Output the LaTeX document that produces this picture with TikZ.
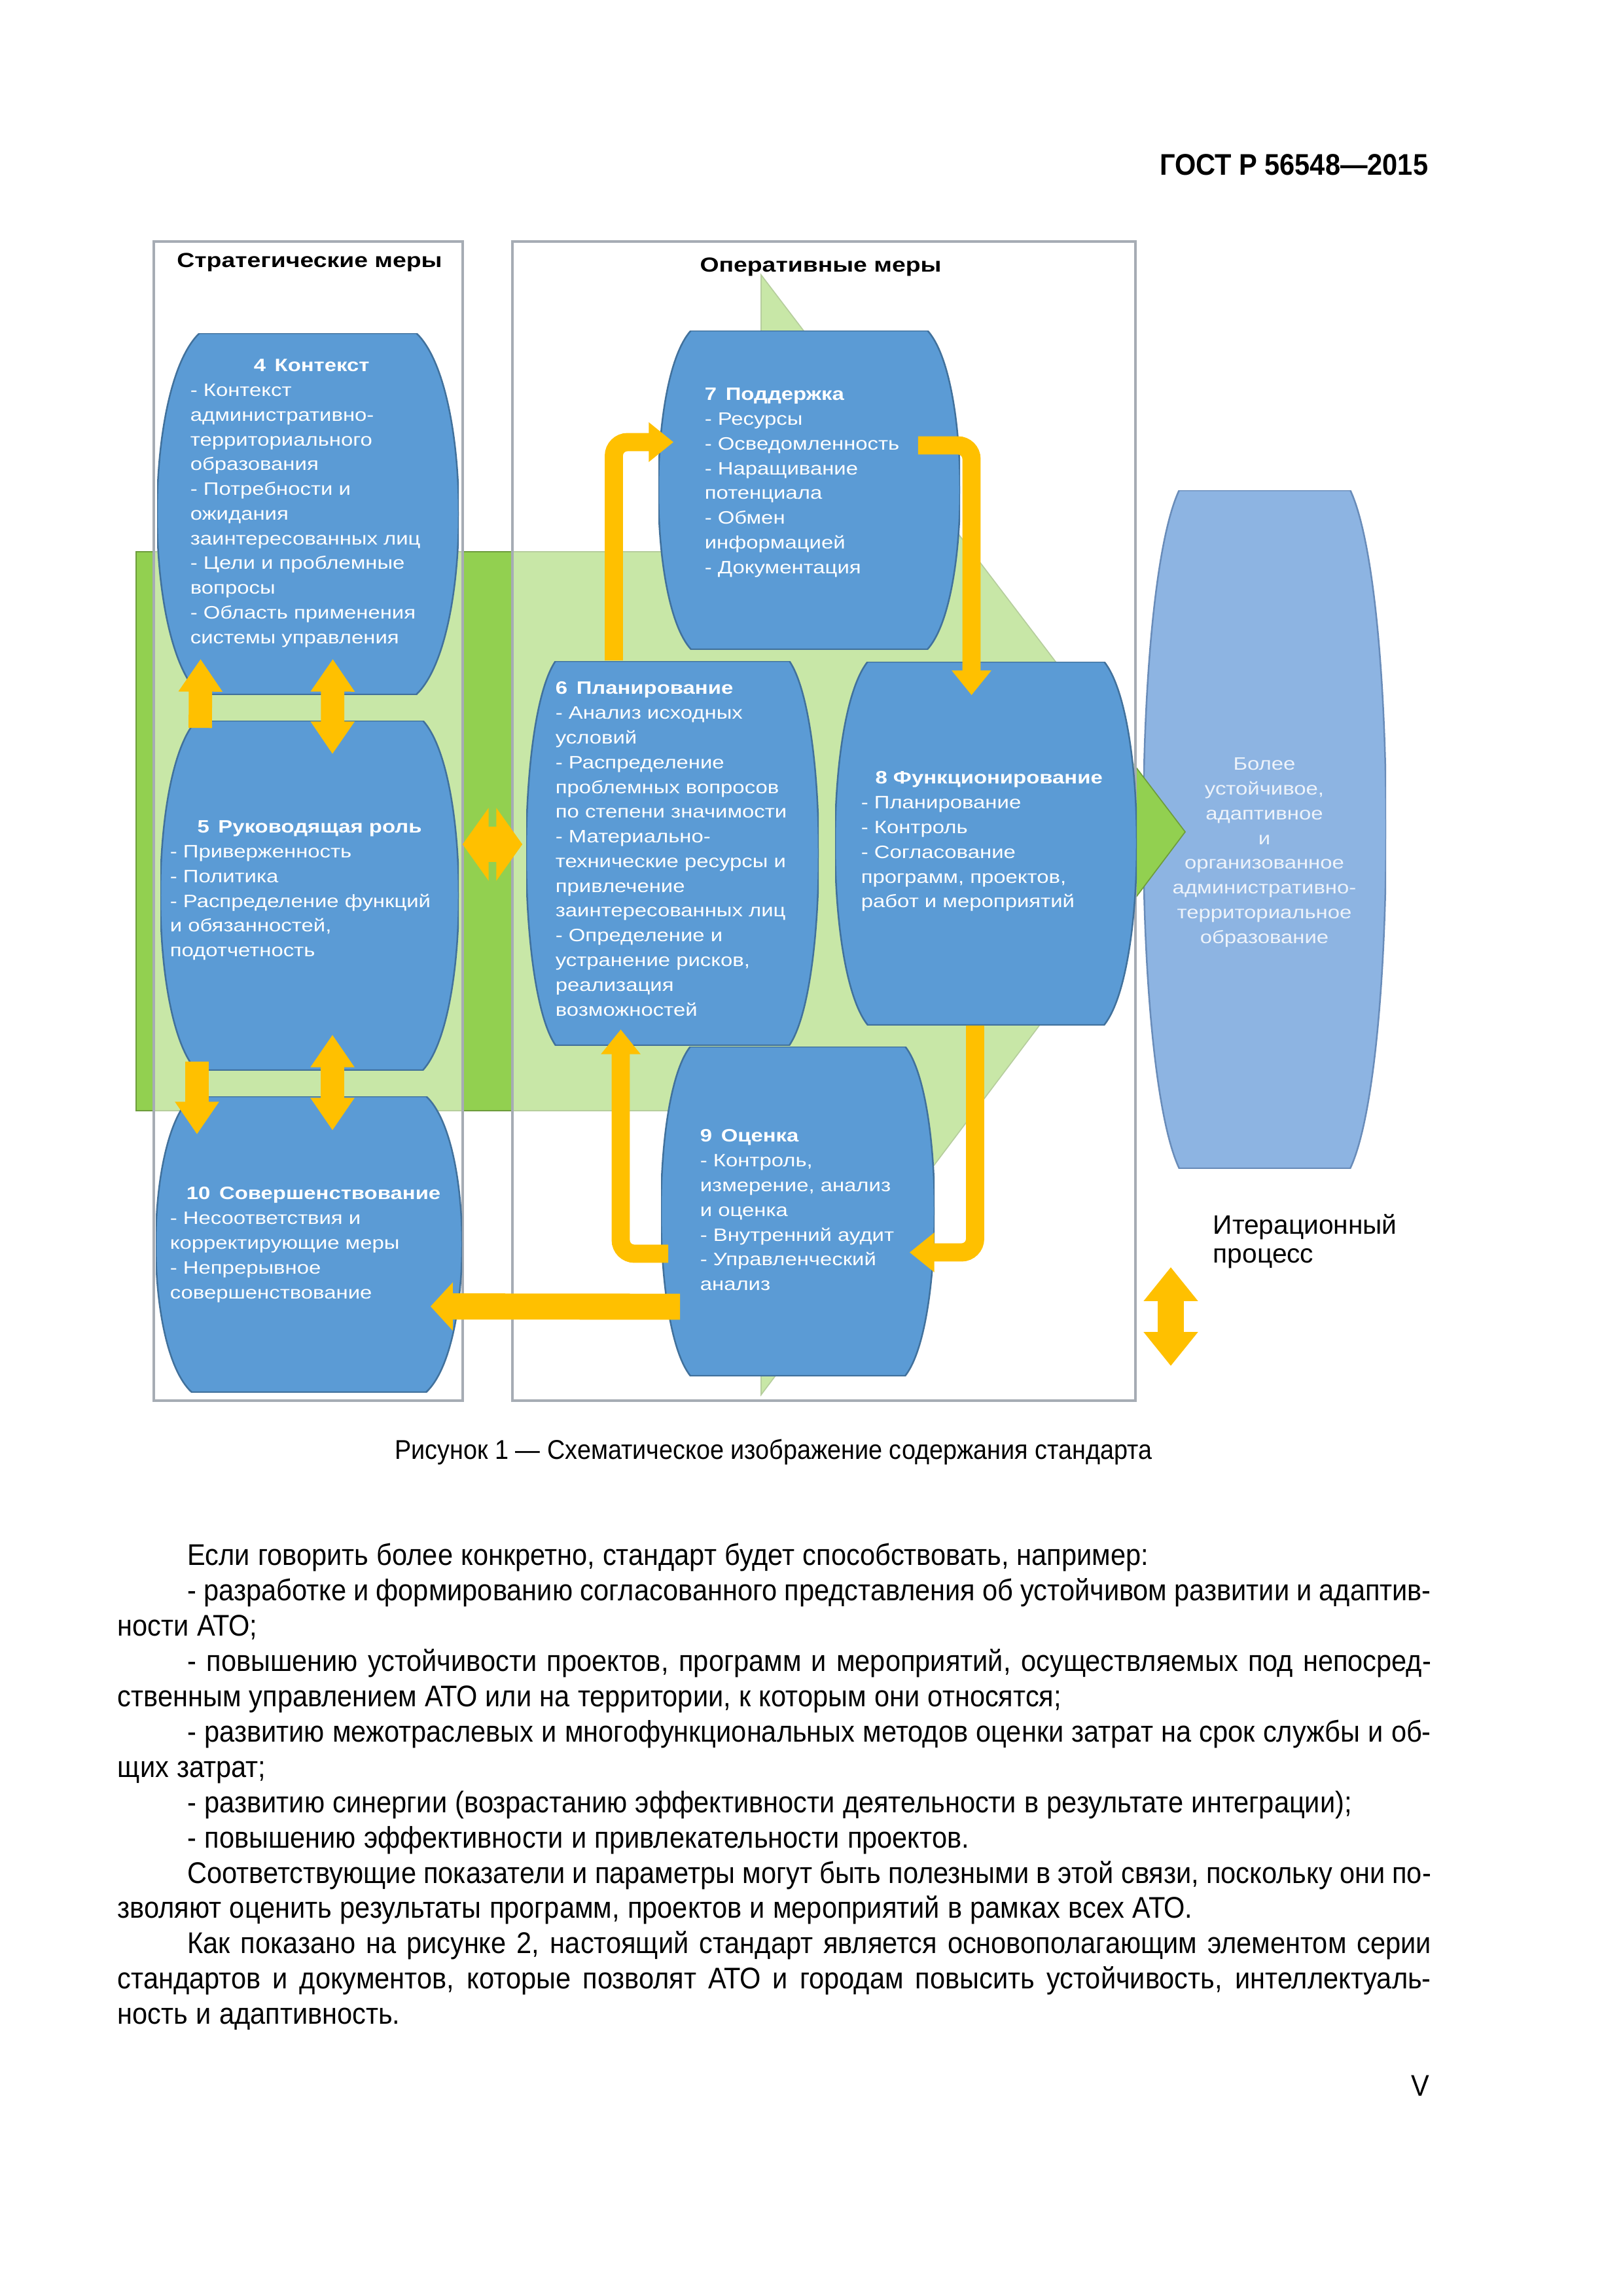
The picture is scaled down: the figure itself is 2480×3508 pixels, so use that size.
\documentclass[tikz,border=0pt]{standalone}
\usepackage{fontspec}
\setmainfont{Liberation Sans}
\newfontfamily\diagfont{Liberation Sans}[FakeStretch=1.2]
\newfontfamily\pagefont{Liberation Sans}[FakeStretch=0.91]
\usetikzlibrary{arrows.meta, calc, fit}

\definecolor{shapeblue}{RGB}{91,155,213}
\definecolor{shapeline}{RGB}{65,113,156}
\definecolor{goalblue}{RGB}{141,180,226}
\definecolor{goalline}{RGB}{105,140,185}
\definecolor{arrowgreen}{RGB}{146,208,80}
\definecolor{arrowyellow}{RGB}{255,192,0}
\definecolor{panelgray}{RGB}{166,172,180}

\newcommand\shapeheadc[1]{\hbox to\hsize{\hss\textbf{#1}\hss}}
\newcommand\pind{\hskip25.7pt}
\newcommand\jline[1]{\noindent\hbox to\hsize{#1}\par}
\newcommand\nline[1]{\noindent\hbox{#1}\par}

\tikzset{
  bulge/.initial=12pt,
  blueshape/.style={fill=shapeblue, draw=shapeline, line width=0.6pt},
  goalshape/.style={fill=goalblue, draw=goalline, line width=0.6pt},
  barrel/.style={inner sep=0pt, path picture={
    \pgfmathsetlengthmacro{\bd}{\pgfkeysvalueof{/tikz/bulge}}
    \filldraw[#1] let \p1=(path picture bounding box.south west),
      \p2=(path picture bounding box.north east), \n1={0.15*(\y2-\y1)} in
      ({\x1+\bd},\y1) -- ({\x2-\bd},\y1)
      .. controls ({\x2+\bd/3},{\y1+\n1}) and ({\x2+\bd/3},{\y2-\n1}) .. ({\x2-\bd},\y2)
      -- ({\x1+\bd},\y2)
      .. controls ({\x1-\bd/3},{\y2-\n1}) and ({\x1-\bd/3},{\y1+\n1}) .. cycle;
  }},
  barrel/.default=blueshape,
  panel/.style={draw=panelgray, line width=1pt, fill=white, fill opacity=0.5, inner sep=0pt},
  titletext/.style={inner sep=0pt, anchor=base, font=\diagfont\bfseries\fontsize{7.5}{9}\selectfont},
  shapetext/.style={inner sep=0pt, text=white, align=left, anchor=north west,
    font=\diagfont\fontsize{6.6}{9.1}\selectfont},
  yarrow/.style={draw=arrowyellow},
  bendarrow/.style={yarrow, line width=6.7pt, rounded corners=5pt, -{Triangle[length=9.1pt, width=14pt]}},
  vertarrow/.style={yarrow, line width=8.6pt, -{Triangle[length=12pt, width=15.4pt]}},
  vertdouble/.style={yarrow, line width=8.6pt, {Triangle[length=12pt, width=15.4pt]}-{Triangle[length=12pt, width=15.4pt]}},
  sidedouble/.style={yarrow, line width=13pt, {Triangle[length=9.6pt, width=26.4pt]}-{Triangle[length=9.6pt, width=26.4pt]}},
  backarrow/.style={yarrow, line width=9.6pt, -{Triangle[length=8.2pt, width=17.3pt]}},
  iterdouble/.style={yarrow, line width=9.6pt, {Triangle[length=12.5pt, width=19.2pt]}-{Triangle[length=12.5pt, width=19.2pt]}},
  pagetext/.style={inner sep=0pt, font=\pagefont\fontsize{10}{12}\selectfont},
}

\begin{document}
\begin{tikzpicture}[x=0.0846774mm, y=-0.0846774mm]
\fill[white] (0,0) rectangle (2480,3508);
\useasboundingbox (0,0) rectangle (2480,3508);

% result and big green arrow
\node[barrel=goalshape, bulge=13.2pt, fit={(1747,749) (2118,1785)}] (goal) {};
\filldraw[fill=arrowgreen, draw=arrowgreen!75!black, line width=0.4pt]
  (208,843) -- (1163,843) -- (1163,420) -- (1811,1271) -- (1163,2131)
  -- (1163,1697) -- (208,1697) -- cycle;

% panels
\node[panel, fit={(235,369) (707,2140)}] (strat) {};
\node[panel, fit={(783,369) (1735,2140)}] (opbox) {};
\node[titletext] (strat-t) at (473,408) {Стратегические меры};
\node[titletext] (opbox-t) at (1254,415) {Оперативные меры};

% blocks
\node[barrel, bulge=15.6pt, fit={(240,509) (701,1061)}] (ctx) {};
\node[barrel, bulge=13.2pt, fit={(245,1101) (701,1635)}] (lead) {};
\node[barrel, bulge=13.2pt, fit={(238,1675) (706,2127)}] (impr) {};
\node[barrel, bulge=12pt, fit={(1006,505) (1467,992)}] (supp) {};
\node[barrel, bulge=10.8pt, fit={(804,1010) (1251,1597)}] (plan) {};
\node[barrel, bulge=12pt, fit={(1276,1011) (1737,1566)}] (oper) {};
\node[barrel, bulge=10.8pt, fit={(1010,1599) (1428,2102)}] (eval) {};

\node[shapetext, text width=89.3pt] (ctx-t) at (290,548) {\shapeheadc{4\enspace Контекст}\\
- Контекст\\административно-\\территориального\\образования\\- Потребности и\\ожидания\\
заинтересованных лиц\\- Цели и проблемные\\вопросы\\- Область применения\\системы управления};
\node[shapetext, text width=102.7pt] (lead-t) at (259,1253) {\shapeheadc{5\enspace Руководящая роль}\\
- Приверженность\\- Политика\\- Распределение функций\\и обязанностей,\\подотчетность};
\node[shapetext, text width=105.6pt] (impr-t) at (259,1813) {\shapeheadc{10\enspace Совершенствование}\\
- Несоответствия и\\корректирующие меры\\- Непрерывное\\совершенствование};
\node[shapetext, text width=91.2pt] (supp-t) at (1076,592) {\textbf{7\enspace Поддержка}\\
- Ресурсы\\- Осведомленность\\- Наращивание\\потенциала\\- Обмен\\информацией\\- Документация};
\node[shapetext, text width=96pt] (plan-t) at (848,1041) {\textbf{6\enspace Планирование}\\
- Анализ исходных\\условий\\- Распределение\\проблемных вопросов\\по степени значимости\\
- Материально-\\технические ресурсы и\\привлечение\\заинтересованных лиц\\
- Определение и\\устранение рисков,\\реализация\\возможностей};
\node[shapetext, text width=94.1pt] (oper-t) at (1315,1178) {\shapeheadc{8 Функционирование}\\
- Планирование\\- Контроль\\- Согласование\\программ, проектов,\\работ и мероприятий};
\node[shapetext, text width=79.2pt] (eval-t) at (1069,1725) {\textbf{9\enspace Оценка}\\
- Контроль,\\измерение, анализ\\и оценка\\- Внутренний аудит\\- Управленческий\\анализ};
\node[shapetext, text width=81.6pt, align=center, anchor=north, text opacity=0.85] (goal-t) at (1932,1157)
  {Более\\устойчивое,\\адаптивное\\и\\организованное\\административно-\\территориальное\\образование};

% strategic links
\draw[vertarrow] ($(lead.north)+(-167,12)$) -- ($(ctx.south)+(-164,-55)$);
\draw[vertdouble] ($(ctx.south)+(38,-55)$) -- ($(lead.north)+(35,52)$);
\draw[vertarrow] ($(lead.south)+(-172,-14)$) -- ($(impr.north)+(-171,59)$);
\draw[vertdouble] ($(lead.south)+(35,-55)$) -- ($(impr.north)+(36,53)$);
\draw[sidedouble] ($(lead.east)+(5,-78)$) -- ($(plan.west)+(-5,-13.5)$);

% operative cycle
\draw[bendarrow] (938,0 |- plan.north) |- ($(supp.west)+(24,-73)$);
\draw[bendarrow] ($(supp.east)+(-65,-68)$) -| ($(oper.north)+(-22,52)$);
\draw[bendarrow] (1490,0 |- oper.south) |- ($(eval.east)+(-39,63)$);
\draw[bendarrow] ($(eval.west)+(12,65)$) -| ($(plan.south)+(-79,-25)$);
\draw[backarrow] ($(eval.west)+(30,146)$) -- ($(impr.east)+(-49,95)$);

% legend
\node[inner sep=0pt, align=left, anchor=north west, font=\fontsize{9.8}{10.6}\selectfont]
  (iter-t) at (1853,1854) {Итерационный\\процесс};
\coordinate (iter-top) at (1789,1936);
\coordinate (iter-bot) at (1789,2087);
\draw[iterdouble] (iter-top) -- (iter-bot);

% page text
\node[pagetext, font=\pagefont\bfseries\fontsize{11}{13}\selectfont, anchor=base east]
  (header) at (2183,267) {ГОСТ Р 56548—2015};
\node[pagetext, anchor=base] (caption) at (1182,2229)
  {Рисунок 1 — Схематическое изображение содержания стандарта};
\node[pagetext, font=\pagefont\fontsize{11}{13}\selectfont, text width=483.5pt, anchor=north west]
  (body) at (179,2357) {\spaceskip=.27em plus .4em minus .12em
\nline{\pind Если говорить более конкретно, стандарт будет способствовать, например:}
\jline{\pind - разработке и формированию согласованного представления об устойчивом развитии и адаптив-}
\nline{ности АТО;}
\jline{\pind - повышению устойчивости проектов, программ и мероприятий, осуществляемых под непосред-}
\nline{ственным управлением АТО или на территории, к которым они относятся;}
\jline{\pind - развитию межотраслевых и многофункциональных методов оценки затрат на срок службы и об-}
\nline{щих затрат;}
\nline{\pind - развитию синергии (возрастанию эффективности деятельности в результате интеграции);}
\nline{\pind - повышению эффективности и привлекательности проектов.}
\jline{\pind Соответствующие показатели и параметры могут быть полезными в этой связи, поскольку они по-}
\nline{зволяют оценить результаты программ, проектов и мероприятий в рамках всех АТО.}
\jline{\pind Как показано на рисунке 2, настоящий стандарт является основополагающим элементом серии}
\jline{стандартов и документов, которые позволят АТО и городам повысить устойчивость, интеллектуаль-}
\nline{ность и адаптивность.}};
\node[pagetext, font=\pagefont\fontsize{11}{13}\selectfont, anchor=base east] (pageno) at (2185,3202) {V};

\end{tikzpicture}
\end{document}
